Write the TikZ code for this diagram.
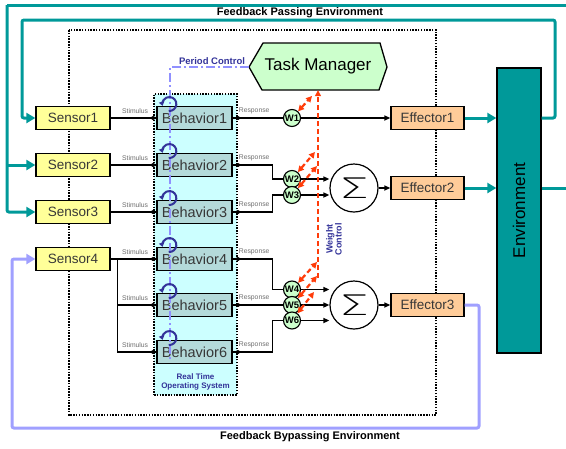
\documentclass[tikz,border=0pt]{standalone}
\usepackage{fontspec}
\setmainfont{Liberation Sans}
\newfontfamily\sigmafont{DejaVu Sans ExtraLight}
\usetikzlibrary{arrows.meta,calc}
\definecolor{tealc}{RGB}{0,153,153}
\definecolor{lav}{RGB}{160,160,255}
\definecolor{rtosfill}{RGB}{204,255,255}
\definecolor{behfill}{RGB}{180,218,218}
\definecolor{sensfill}{RGB}{255,255,153}
\definecolor{efffill}{RGB}{255,204,153}
\definecolor{greenfill}{RGB}{204,255,204}
\definecolor{navyc}{RGB}{51,51,153}
\definecolor{wred}{RGB}{255,60,10}
\definecolor{txtgray}{RGB}{55,55,55}
\definecolor{lblgray}{RGB}{110,110,110}
\tikzset{
  fs/.style={font=\fontsize{#1}{#1}\selectfont},
  fsb/.style={font=\fontsize{#1}{#1}\selectfont\bfseries},
  dotframe/.style={line width=1.8pt, dash pattern=on 1.5pt off 1.3pt},
  sensorbox/.style={draw, line width=1.3pt, fill=sensfill, minimum width=74pt,
    minimum height=23pt, inner sep=0pt, text=txtgray, fs=13.5},
  behbox/.style={draw, line width=1.3pt, fill=behfill, minimum width=75pt,
    minimum height=23pt, inner sep=0pt, text=txtgray, fs=14.5},
  effbox/.style={draw, line width=1.3pt, fill=efffill, minimum width=73pt,
    minimum height=23pt, inner sep=0pt, text=txtgray, fs=13.5},
  wnode/.style={circle, draw, line width=1.1pt, fill=greenfill, minimum size=17pt,
    inner sep=0pt, fsb=9.5},
  sumnode/.style={circle, draw, line width=1.2pt, fill=white, minimum size=48pt,
    inner sep=0pt},
  sigma/.style={font=\fontsize{27}{27}\sigmafont, xscale=1.75, yscale=1.05, inner sep=0pt},
  stimlbl/.style={text=lblgray, fs=6.8, inner sep=0pt, anchor=south east},
  resplbl/.style={text=lblgray, fs=6.8, inner sep=0pt, anchor=south west},
  thickw/.style={line width=1.8pt},
  thinw/.style={line width=1.2pt},
  blk/.style={-{Triangle[length=6pt,width=5pt]}},
  tealline/.style={draw=tealc, line width=3pt},
  tealarrow/.style={tealline, -{Triangle[length=9pt,width=10pt]}},
  bypass/.style={draw=lav, line width=3pt},
  periodline/.style={draw=lav!90!blue, line width=2pt, dash pattern=on 9pt off 3pt on 2pt off 3pt},
  cyc/.style={draw=navyc, line width=2pt, -{Triangle[length=4pt,width=5.5pt]}},
  wdash/.style={draw=wred, line width=2.2pt, dash pattern=on 5pt off 3pt},
  whead/.style={{Triangle[length=6pt,width=6pt]}-{Triangle[length=6pt,width=6pt]}},
}
\begin{document}
\begin{tikzpicture}[x=1pt,y=-1pt]
\useasboundingbox (0,0) rectangle (566,448);

% dotted frame of the controller
\draw[dotframe] (69,30) rectangle (436,415);

% real time operating system area
\node[draw, dotframe, fill=rtosfill, minimum width=83pt, minimum height=301pt, inner sep=0pt]
  (rtos) at (195.5,244.5) {};
\node[text=navyc, fsb=8, align=center, inner sep=0pt] (rtoslbl) at (195.5,382)
  {Real Time\\[1pt]Operating System};

% task manager
\draw[line width=1.3pt, fill=greenfill] (249,67) -- (263,43) -- (380,43) -- (387,67)
  -- (379,90) -- (262,90) -- cycle;
\node[minimum width=138pt, minimum height=47pt, inner sep=0pt, fs=17] (tm) at (318,66.5) {Task Manager};

% environment
\node[draw, line width=1.3pt, fill=tealc, minimum width=44pt, minimum height=285pt, inner sep=0pt]
  (env) at (519,210.5) {};
\node[rotate=90, fs=17, inner sep=0pt] (envlbl) at (env.center) {Environment};

% sensors
\node[sensorbox] (s1) at (73,118) {Sensor1};
\node[sensorbox] (s2) at (73,165) {Sensor2};
\node[sensorbox] (s3) at (73,212) {Sensor3};
\node[sensorbox] (s4) at (73,259) {Sensor4};

% behaviours
\node[behbox] (b1) at (194.5,118) {Behavior1};
\node[behbox] (b2) at (194.5,165) {Behavior2};
\node[behbox] (b3) at (194.5,212) {Behavior3};
\node[behbox] (b4) at (194.5,259) {Behavior4};
\node[behbox] (b5) at (194.5,305) {Behavior5};
\node[behbox] (b6) at (194.5,352) {Behavior6};

% effectors
\node[effbox] (e1) at (427.5,118) {Effector1};
\node[effbox] (e2) at (427.5,188) {Effector2};
\node[effbox] (e3) at (427.5,305) {Effector3};

% weights and summing junctions
\node[wnode] (w1) at (292,118) {W1};
\node[wnode] (w2) at (292,179) {W2};
\node[wnode] (w3) at (292,195) {W3};
\node[wnode] (w4) at (292,289.5) {W4};
\node[wnode] (w5) at (292,305) {W5};
\node[wnode] (w6) at (292,320.5) {W6};
\node[sumnode] (sum1) at (354,188) {};
\node[sumnode] (sum2) at (354,305) {};
\node[sigma] (sig1) at (sum1.center) {Σ};
\node[sigma] (sig2) at (sum2.center) {Σ};

% stimulus connections
\draw[thickw] (s1.east) -- (b1.west);
\draw[thickw] (s2.east) -- (b2.west);
\draw[thickw] (s3.east) -- (b3.west);
\draw[thickw] (s4.east) -- (b4.west);
\coordinate (split) at ($(s4.east)+(7,0)$);
\draw[thinw] (split) |- (b6.west);
\draw[thinw] (split |- b5.west) -- (b5.west);
\foreach \b in {b1,b2,b3,b4,b5,b6}{
  \fill (rtos.west |- \b.west) circle (2pt);
  \fill (rtos.east |- \b.east) circle (2pt);
  \node[stimlbl] at ($(\b.west)+(-8,-4)$) {Stimulus};
  \node[resplbl] at ($(\b.east)+(6,-4)$) {Response};
}

% response connections
\draw[thickw] (b1.east) -- (w1);
\draw[thinw] (b2.east) -- ++(40,0) |- (w2);
\draw[thinw] (b3.east) -- ++(40,0) |- (w3);
\draw[thinw] (b4.east) -- ++(40,0) |- (w4);
\draw[thickw] (b5.east) -- (w5);
\draw[thinw] (b6.east) -- ++(40,0) |- (w6);
\draw[thickw, blk] (w1) -- (e1.west);
\draw[thickw, blk] (w2) -- (w2 -| sum1.west);
\draw[thickw, blk] (w3) -- (w3 -| sum1.west);
\draw[thickw, blk] (w4) -- (w4 -| sum2.west);
\draw[thickw, blk] (w5) -- (sum2.west);
\draw[thickw, blk] (w6) -- (w6 -| sum2.west);
\draw[thickw, blk] (sum1) -- (e2.west);
\draw[thickw, blk] (sum2) -- (e3.west);

% outputs into the environment
\draw[tealarrow] (e1.east) -- (e1.east -| env.west);
\draw[tealarrow] (e2.east) -- (e2.east -| env.west);

% feedback passing environment
\coordinate (fpa) at (555,20);
\coordinate (fpb) at (22,20);
\draw[tealarrow, rounded corners=2pt] (env.east |- e1) -| (fpa) -- (fpb) |- (s1.west);
\coordinate (fo) at (7,5);
\draw[tealline] (566,5) -- (fo);
\draw[tealarrow, rounded corners=2pt] (fo) |- (s3.west);
\draw[tealarrow] (fo |- s2.west) -- (s2.west);
\draw[tealline] (env.east |- e2) -- (566,188);
\node[fsb=11, inner sep=0pt] (fplbl) at (300,12.5) {Feedback Passing Environment};

% feedback bypassing environment
\coordinate (bpa) at (479,428);
\coordinate (bpb) at (12,428);
\draw[bypass, -{Triangle[length=9pt,width=10pt]}, rounded corners=2pt]
  (e3.east) -| (bpa) -- (bpb) |- (s4.west);
\node[fsb=11, inner sep=0pt] (bplbl) at (310,437) {Feedback Bypassing Environment};

% period control
\coordinate (pc) at (170,67);
\draw[periodline] (249,67) -- (pc) -- (170,360);
\node[text=navyc, fsb=9.5, inner sep=0pt] (pclbl) at (212,61) {Period Control};
\foreach \b in {b1,b2,b3,b4,b5,b6}{
  \draw[cyc] ($(\b.west)+(13,-14)$) ++(95:7) arc (95:-195:7);
}

% weight control
\draw[wdash, -{Triangle[length=6pt,width=6pt]}] (318,278) -- (tm.south);
\draw[wdash, whead] (w1) -- (312,96);
\draw[wdash, whead] (w2) -- (315,152);
\draw[wdash, whead] (w3) -- (317,166);
\draw[wdash, whead] (w4) -- (317,262);
\draw[wdash, whead] (w5) -- (317,276);
\draw[wdash, whead] (w6) -- (314,292);
\node[text=navyc, fsb=9, rotate=90, align=center, inner sep=0pt] (wclbl) at (334,239) {Weight\\Control};
\end{tikzpicture}
\end{document}
